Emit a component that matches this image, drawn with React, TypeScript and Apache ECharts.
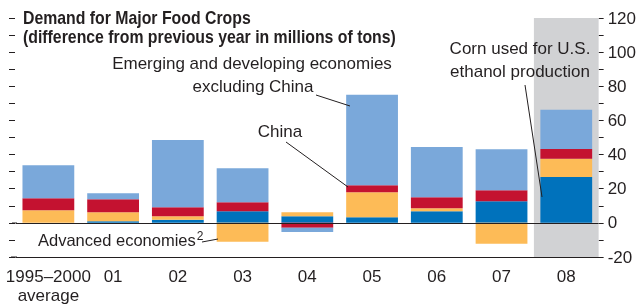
import React, { useEffect, useRef } from 'react';
import * as echarts from 'echarts';

// Categories (years) and stacked components, millions of tons
const categories = ['1995–2000\naverage', '01', '02', '03', '04', '05', '06', '07', '08'];
const corn = [0, 1.0, 1.8, 6.8, 3.9, 3.3, 6.8, 12.7, 26.8];
const advanced = [7.4, 5.2, 2.1, -11.1, 2.3, 14.7, 1.8, -12.3, 10.7];
const china = [7.0, 7.7, 5.3, 5.3, -2.9, 4.0, 6.4, 6.4, 5.8];
const emerging = [19.4, 3.5, 39.4, 19.9, -2.4, 53.0, 29.5, 24.0, 22.9];
const highlighted = '08';
const yMin = -20;
const yMax = 120;
const yStep = 10;
const labelStep = 20;
const titleLines = ['Demand for Major Food Crops', '(difference from previous year in millions of tons)'];

const FONT = "'Liberation Sans Narrow', 'Arial Narrow', 'Liberation Sans', sans-serif";
const INK = '#231f20';

export default function App() {
  const ref = useRef<HTMLDivElement>(null);
  useEffect(() => {
    const chart = echarts.init(ref.current!, null, { renderer: 'svg' });
    const bgTop = categories.map((c) => (c === highlighted ? yMax : null));
    const bgBottom = categories.map((c) => (c === highlighted ? yMin : null));
    const txt = (text: string, x: number, y: number, align: string = 'center', size = 17) => ({
      type: 'text',
      x,
      y,
      z: 50,
      style: { text, fill: INK, font: `${size}px ${FONT}`, align, verticalAlign: 'middle' },
    });
    const ln = (x1: number, y1: number, x2: number, y2: number) => ({
      type: 'line',
      z: 50,
      shape: { x1, y1, x2, y2 },
      style: { stroke: INK, lineWidth: 1 },
    });
    const titleText = (text: string, y: number) => ({
      type: 'text',
      x: 23,
      y,
      scaleX: 0.88,
      z: 50,
      style: { text, fill: INK, font: `bold 18px ${FONT}`, align: 'left', verticalAlign: 'middle' },
    });
    const barSeries = (name: string, data: number[], color: string) => ({
      name,
      type: 'bar',
      stack: 'demand',
      data,
      barWidth: '80%',
      itemStyle: { color },
      z: 3,
      silent: true,
    });
    chart.setOption({
      animation: false,
      grid: { left: 16, right: 38, top: 18, bottom: 48, containLabel: false },
      xAxis: [
        {
          type: 'category',
          data: categories,
          axisLine: { onZero: false, lineStyle: { color: INK, width: 1 } },
          axisTick: { inside: true, length: 5, alignWithLabel: true, lineStyle: { color: INK } },
          axisLabel: { interval: 0, fontFamily: FONT, fontSize: 17, color: INK, lineHeight: 19, margin: 10 },
        },
        { type: 'category', data: categories, show: false },
      ],
      yAxis: [
        {
          type: 'value',
          position: 'left',
          min: yMin,
          max: yMax,
          interval: yStep,
          offset: 1,
          axisLine: { show: false },
          axisTick: { show: true, length: 6, lineStyle: { color: INK } },
          axisLabel: { show: false },
          splitLine: { show: false },
        },
        {
          type: 'value',
          position: 'right',
          min: yMin,
          max: yMax,
          interval: yStep,
          axisLine: { show: false },
          axisTick: { show: true, length: 5, lineStyle: { color: INK } },
          axisLabel: {
            fontFamily: FONT,
            fontSize: 17,
            color: INK,
            margin: 9,
            formatter: (v: number) => (v % labelStep === 0 ? String(v) : ''),
          },
          splitLine: { show: false },
        },
      ],
      series: [
        { type: 'bar', xAxisIndex: 1, stack: 'bg', data: bgTop, barWidth: '100%', itemStyle: { color: '#d1d2d4' }, z: 1, silent: true },
        { type: 'bar', xAxisIndex: 1, stack: 'bg', data: bgBottom, barWidth: '100%', itemStyle: { color: '#d1d2d4' }, z: 1, silent: true },
        barSeries('Corn used for U.S. ethanol production', corn, '#0072bc'),
        barSeries('Advanced economies', advanced, '#fdbb57'),
        barSeries('China', china, '#c41230'),
        {
          ...barSeries('Emerging and developing economies excluding China', emerging, '#7aa8da'),
          markLine: {
            silent: true,
            symbol: 'none',
            label: { show: false },
            lineStyle: { color: INK, width: 1, type: 'solid' },
            data: [{ yAxis: 0 }],
          },
        },
      ],
      graphic: [
        titleText(titleLines[0], 18.5),
        titleText(titleLines[1], 37),
        txt('Emerging and developing economies', 252, 63),
        txt('excluding China', 253, 86),
        ln(316, 95, 350, 106),
        txt('China', 280, 131),
        ln(286, 142, 348, 187),
        txt('Corn used for U.S.', 520, 48),
        txt('ethanol production', 520, 71),
        ln(525, 85, 542, 197),
        {
          type: 'text',
          x: 38,
          y: 240,
          z: 50,
          style: {
            text: '{a|Advanced economies}{s|2}',
            align: 'left',
            verticalAlign: 'middle',
            rich: {
              a: { fontFamily: FONT, fontSize: 16.5, fill: INK, color: INK },
              s: { fontFamily: FONT, fontSize: 12, fill: INK, color: INK, padding: [0, 0, 9, 1] },
            },
          },
        },
        ln(202, 242, 218, 239),
        ln(11, 257, 17, 257),
        ln(12, 223, 17, 223),
      ],
    });
    return () => chart.dispose();
  }, []);
  return <div ref={ref} style={{ position: 'fixed', left: 0, top: 0, width: 639, height: 305 }} />;
}
